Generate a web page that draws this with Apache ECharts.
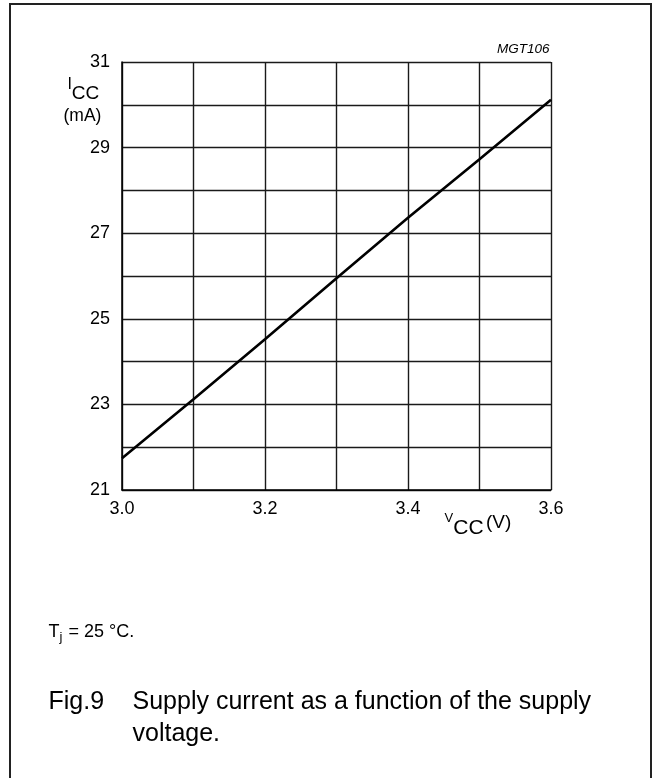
<!DOCTYPE html>
<html>
<head>
<meta charset="utf-8">
<script src="https://cdn.jsdelivr.net/npm/echarts@6/dist/echarts.min.js"></script>
<style>html,body{margin:0;padding:0;background:#fff}#c{width:653px;height:778px}</style>
</head>
<body>
<div id="c"></div>
<script>
var vcc = [3.0, 3.1, 3.2, 3.3, 3.4, 3.5, 3.6];
var icc = [21.74, 23.12, 24.52, 25.95, 27.36, 28.73, 30.12];
var xTickLabels = ['3.0', '3.2', '3.4', '3.6'];
var yTickLabels = ['21', '23', '25', '27', '29', '31'];

var F = 'Liberation Sans, Arial, sans-serif';
var chart = echarts.init(document.getElementById('c'), null, {renderer: 'canvas'});
var seriesData = vcc.map(function (v, i) { return [v, icc[i]]; });

chart.setOption({
  animation: false,
  backgroundColor: '#fff',
  grid: {left: 122, right: 102, top: 62, bottom: 288, containLabel: false},
  xAxis: {
    type: 'value', min: 3.0, max: 3.6, interval: 0.1,
    axisLine: {show: true, onZero: false, lineStyle: {color: '#000', width: 1.5}},
    axisTick: {show: false},
    splitLine: {show: true, lineStyle: {color: '#1a1a1a', width: 1.4}},
    axisLabel: {
      color: '#000', fontFamily: F, fontSize: 18, margin: 10,
      formatter: function (v) {
        var s = v.toFixed(1);
        return xTickLabels.indexOf(s) >= 0 ? s : '';
      }
    }
  },
  yAxis: {
    type: 'value', min: 21, max: 31, interval: 1,
    axisLine: {show: true, onZero: false, lineStyle: {color: '#000', width: 1.5}},
    axisTick: {show: false},
    splitLine: {show: true, lineStyle: {color: '#1a1a1a', width: 1.4}},
    axisLabel: {
      color: '#000', fontFamily: F, fontSize: 18, margin: 12,
      formatter: function (v) {
        var s = String(Math.round(v));
        return yTickLabels.indexOf(s) >= 0 ? s : '';
      }
    }
  },
  series: [{
    type: 'line', data: seriesData, showSymbol: false, symbol: 'none',
    lineStyle: {color: '#000', width: 2.6}, silent: true
  }],
  graphic: [
    {type: 'polyline', shape: {points: [[10, 790], [10, 4], [651, 4], [651, 790]]},
     style: {stroke: '#222', lineWidth: 2, fill: null}, silent: true},
    {type: 'text', x: 549.5, y: 49.5, style: {text: 'MGT106', fontFamily: F, fontStyle: 'italic', fontSize: 13.5, fill: '#000', align: 'right', verticalAlign: 'middle'}},
    {type: 'text', x: 67.5, y: 85, style: {text: 'I', fontFamily: F, fontSize: 16, fill: '#000', align: 'left', verticalAlign: 'middle'}},
    {type: 'text', x: 71.8, y: 93.3, style: {text: 'CC', fontFamily: F, fontSize: 19, fill: '#000', align: 'left', verticalAlign: 'middle'}},
    {type: 'text', x: 63.5, y: 116.5, style: {text: '(mA)', fontFamily: F, fontSize: 17.5, fill: '#000', align: 'left', verticalAlign: 'middle'}},
    {type: 'text', x: 444.5, y: 518.5, style: {text: 'V', fontFamily: F, fontSize: 13, fill: '#000', align: 'left', verticalAlign: 'middle'}},
    {type: 'text', x: 453.3, y: 528.5, style: {text: 'CC', fontFamily: F, fontSize: 21, fill: '#000', align: 'left', verticalAlign: 'middle'}},
    {type: 'text', x: 486, y: 522.5, style: {text: '(V)', fontFamily: F, fontSize: 19, fill: '#000', align: 'left', verticalAlign: 'middle'}},
    {type: 'text', x: 48.5, y: 632, style: {text: 'T', fontFamily: F, fontSize: 18, fill: '#000', align: 'left', verticalAlign: 'middle'}},
    {type: 'text', x: 59.5, y: 637, style: {text: 'j', fontFamily: F, fontSize: 13, fill: '#000', align: 'left', verticalAlign: 'middle'}},
    {type: 'text', x: 63.5, y: 632, style: {text: ' = 25 \u00B0C.', fontFamily: F, fontSize: 18, fill: '#000', align: 'left', verticalAlign: 'middle'}},
    {type: 'text', x: 48.5, y: 702, style: {text: 'Fig.9', fontFamily: F, fontSize: 25, fill: '#000', align: 'left', verticalAlign: 'middle'}},
    {type: 'text', x: 132.5, y: 702, style: {text: 'Supply current as a function of the supply', fontFamily: F, fontSize: 25, fill: '#000', align: 'left', verticalAlign: 'middle'}},
    {type: 'text', x: 132.5, y: 734.5, style: {text: 'voltage.', fontFamily: F, fontSize: 25, fill: '#000', align: 'left', verticalAlign: 'middle'}}
  ]
});
</script>
</body>
</html>
